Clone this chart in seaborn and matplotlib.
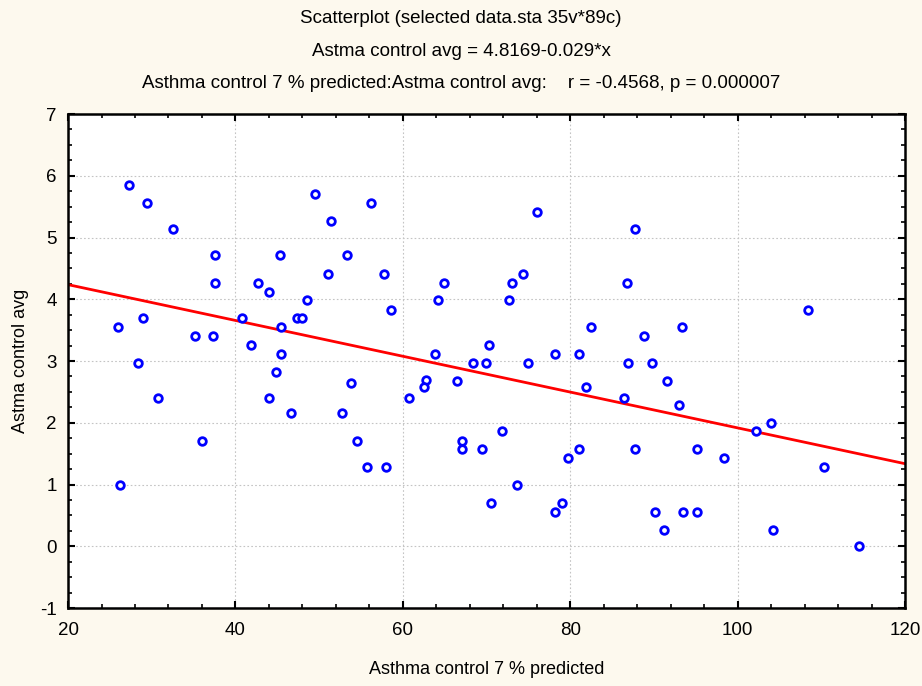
import numpy as np
import pandas as pd
import matplotlib
matplotlib.use("Agg")
import matplotlib.pyplot as plt
from matplotlib.ticker import MultipleLocator
import seaborn as sns

# Asthma control 7 % predicted (x) vs Astma control avg (y)
pct_predicted = [
    27.3, 29.4, 32.5, 37.6, 37.6, 45.3, 49.5, 51.4, 53.3, 51.1, 42.7, 44.0,
    48.5, 26.0, 29.0, 35.2, 37.3, 40.75, 47.3, 48.0, 45.5, 41.8, 45.5,
    28.3, 44.8, 53.8, 30.7, 44.0, 46.6, 52.7, 36.0, 54.5, 26.2,
    56.2, 57.7, 58.6, 64.9, 64.2, 76.0, 87.7, 73.1, 74.4, 72.7, 86.8, 70.3,
    82.5, 63.8, 78.2, 81.1, 88.8,
    68.4, 69.9, 75.0, 86.9, 62.8, 62.5, 66.5, 60.7, 81.9, 86.4, 55.7, 58.0,
    67.1, 67.1, 69.5, 71.9, 73.6, 70.5, 78.2, 79.0, 79.7, 81.1, 87.7,
    108.4, 93.3,
    89.8, 91.6, 93.0, 104.0, 102.2, 95.1, 98.4, 110.3, 90.1, 93.5, 95.1,
    91.2, 104.2, 114.5,
]
control_avg = [
    5.85, 5.56, 5.13, 4.71, 4.27, 4.71, 5.70, 5.27, 4.71, 4.41, 4.27, 4.12,
    3.98, 3.55, 3.69, 3.40, 3.40, 3.69, 3.69, 3.69, 3.55, 3.26, 3.11,
    2.97, 2.82, 2.64, 2.40, 2.40, 2.15, 2.15, 1.71, 1.71, 1.00,
    5.56, 4.41, 3.83, 4.27, 3.98, 5.41, 5.13, 4.27, 4.41, 3.98, 4.27, 3.26,
    3.55, 3.11, 3.11, 3.11, 3.40,
    2.97, 2.97, 2.97, 2.97, 2.69, 2.58, 2.68, 2.40, 2.58, 2.40, 1.29, 1.29,
    1.71, 1.57, 1.57, 1.86, 1.00, 0.70, 0.55, 0.70, 1.43, 1.57, 1.57,
    3.83, 3.55,
    2.97, 2.68, 2.29, 2.00, 1.86, 1.57, 1.43, 1.29, 0.55, 0.55, 0.55,
    0.27, 0.27, 0.00,
]

# fitted line from the title
intercept = 4.8169
slope = -0.029

df = pd.DataFrame({"x": pct_predicted, "y": control_avg})
fit_x = np.linspace(20, 120, 200)
fit = pd.DataFrame({"x": fit_x, "y": intercept + slope * fit_x})

sns.set_style("white")
plt.rcParams["font.family"] = ["Liberation Sans", "DejaVu Sans"]
plt.rcParams["text.color"] = "black"
plt.rcParams["axes.labelcolor"] = "black"
plt.rcParams["xtick.color"] = "black"
plt.rcParams["ytick.color"] = "black"
plt.rcParams["axes.unicode_minus"] = False

bg = "#fdf9ee"
fig = plt.figure(figsize=(9.22, 6.86), dpi=100, facecolor=bg)
ax = fig.add_axes([0.0738, 0.1137, 0.9078, 0.7201])
ax.set_facecolor("white")

sns.lineplot(data=fit, x="x", y="y", ax=ax, color="#ff0000", linewidth=2.0, zorder=2)
sns.scatterplot(data=df, x="x", y="y", ax=ax, marker="o", s=30,
                facecolor="white", edgecolor="#0000ff", linewidth=2.0, zorder=3)

ax.set_xlim(20, 120)
ax.set_ylim(-1, 7)
ax.xaxis.set_major_locator(MultipleLocator(20))
ax.xaxis.set_minor_locator(MultipleLocator(4))
ax.yaxis.set_major_locator(MultipleLocator(1))
ax.yaxis.set_minor_locator(MultipleLocator(0.25))

ax.grid(True, which="major", color="#c4c4c4", linestyle=(0, (1.5, 2)), linewidth=0.8)
ax.set_axisbelow(True)

for s in ax.spines.values():
    s.set_visible(True)
    s.set_color("black")
    s.set_linewidth(1.8)

ax.tick_params(which="both", direction="in", top=True, right=True, bottom=True, left=True,
               labelsize=13.5)
ax.tick_params(axis="x", which="both", pad=10)
ax.tick_params(axis="y", which="both", pad=8)
ax.tick_params(which="major", length=5, width=1.5)
ax.tick_params(which="minor", length=3, width=1.2)

ax.set_xlabel("Asthma control 7 % predicted", fontsize=13, labelpad=16)
ax.set_ylabel("Astma control avg", fontsize=13, labelpad=8)

title_lines = [
    "Scatterplot (selected data.sta 35v*89c)",
    "Astma control avg = 4.8169-0.029*x",
    "Asthma control 7 % predicted:Astma control avg:    r = -0.4568, p = 0.000007",
]
for i, line in enumerate(title_lines):
    fig.text(0.5, 1 - (18.5 + 32.5 * i) / 686, line, ha="center", va="center", fontsize=13.5)

fig.savefig("out.png", dpi=100, facecolor=bg)
